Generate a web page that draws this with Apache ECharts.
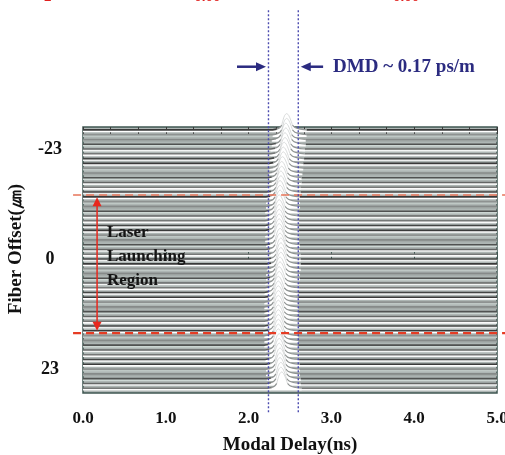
<!DOCTYPE html>
<html><head><meta charset="utf-8">
<script src="https://cdn.jsdelivr.net/npm/echarts@6/dist/echarts.min.js"></script>
<style>html,body{margin:0;padding:0;background:#fff}#c{width:505px;height:455px}</style>
</head><body><div id="c"></div>
<script>
// fiber offsets (µm) of each DMD trace, top to bottom
const offsets = [-27,-26,-25,-24,-23,-22,-21,-20,-19,-18,-17,-16,-15,-14,-13,-12,-11,-10,-9,-8,-7,-6,-5,-4,-3,-2,-1,0,1,2,3,4,5,6,7,8,9,10,11,12,13,14,15,16,17,18,19,20,21,22,23,24,25,26,27];
// pulse arrival time (ns) read for each trace
const arrivalNs = [2.46,2.46,2.45,2.45,2.44,2.44,2.43,2.42,2.42,2.41,2.40,2.40,2.39,2.39,2.38,2.38,2.38,2.37,2.37,2.37,2.37,2.37,2.37,2.37,2.38,2.38,2.39,2.39,2.39,2.39,2.38,2.38,2.37,2.37,2.36,2.36,2.36,2.36,2.36,2.36,2.36,2.36,2.36,2.36,2.36,2.36,2.37,2.37,2.37,2.38,2.38,2.38,2.39,2.39,2.40];
// pulse shape: time from arrival (ns) and height (in offset units)
const pulseDtNs = [-0.17,-0.12,-0.085,-0.06,-0.045,-0.025,0,0.025,0.05,0.07,0.10,0.15,0.24];
const pulseHeight = [0,0.15,0.45,1.0,2.0,3.0,3.4,3.0,2.0,1.0,0.5,0.2,0];
const xTickValues = [0,1,2,3,4,5];
const yTickValues = [-23,0,23];
const dmdBoundsNs = [2.24,2.60];
const launchRegionUm = [-13.4,15.5];
const dmdLabel = 'DMD ~ 0.17 ps/m';
const regionLabel = ['Laser','Launching','Region'];

const FONT = "'Liberation Serif','Times New Roman',serif";
const lineShades = ['#3a3a3a','#767877','#505251','#8e9291','#444645','#646665','#868a89'];
const bandShades = ['#ffffff','#cdd7d4','#eceeee','#a3aaa8','#fbfbfb','#bfc8c5','#f3f5f4'];

function traceItem(params, api){
  const o = api.value(1), t0 = api.value(0);
  const idx = params.dataIndex;
  const BAND = 0.5;
  const line = [[0,0]].concat(pulseDtNs.map((d,j)=>[t0+d, pulseHeight[j]])).concat([[5,0]]);
  const top = line.map(p=>api.coord([p[0], o-Math.min(p[1],1.0)]));
  const bot = line.map(p=>api.coord([p[0], o-Math.min(p[1],1.0)+BAND])).reverse();
  const full = line.map(p=>api.coord([p[0], o-p[1]]));
  const pulse = pulseDtNs.map((d,j)=>api.coord([t0+d, o-pulseHeight[j]]));
  const pulseBase = pulseDtNs.map(d=>api.coord([t0+d, o+BAND])).reverse();
  const lc = lineShades[(idx*3)%lineShades.length];
  const bc = bandShades[(idx*5)%bandShades.length];
  // split trace line: flat part dark, shoulders mid grey, tall middle light
  const flatL = [], flatR = [], shL = [], shR = [], mid = [];
  let passedPeak = false;
  line.forEach((p,j)=>{
    if (p[1] > 1.0) { mid.push(full[j]); passedPeak = true; return; }
    if (!passedPeak) { if (p[1] <= 0.15) flatL.push(full[j]); shL.push(full[j]); }
    else { if (p[1] <= 0.15) flatR.push(full[j]); shR.push(full[j]); }
  });
  if (mid.length){ mid.unshift(shL[shL.length-1]); mid.push(shR[0]); }
  const shLeft = shL.slice(flatL.length-1), shRight = shR.slice(0, shR.length-flatR.length+1);
  return {type:'group', children:[
    {type:'polygon', shape:{points:top.concat(bot)}, style:{fill:bc}},
    {type:'polygon', shape:{points:pulse.concat(pulseBase)}, style:{fill:'#ffffff'}},
    {type:'polyline', shape:{points:flatL}, style:{stroke:lc, lineWidth:1.6, fill:null}},
    {type:'polyline', shape:{points:flatR}, style:{stroke:lc, lineWidth:1.6, fill:null}},
    {type:'polyline', shape:{points:shLeft, smooth:0.3}, style:{stroke:'#8f9392', lineWidth:1.2, fill:null}},
    {type:'polyline', shape:{points:shRight, smooth:0.3}, style:{stroke:'#8f9392', lineWidth:1.2, fill:null}},
    {type:'polyline', shape:{points:mid, smooth:0.3}, style:{stroke:'#c8cccb', lineWidth:0.7, fill:null}}
  ]};
}

function arrowHead(tip, dir, len, wid){
  const bx = tip[0]-dir[0]*len, by = tip[1]-dir[1]*len;
  const nx = -dir[1]*wid/2, ny = dir[0]*wid/2;
  return [tip,[bx+nx,by+ny],[bx-nx,by-ny]];
}

const chart = echarts.init(document.getElementById('c'), null, {renderer:'canvas'});
const option = {
  animation:false,
  backgroundColor:'#ffffff',
  grid:{left:83, right:8, top:127, bottom:62, outerBoundsMode:'none', containLabel:false, show:true, backgroundColor:'#aeb6b4', borderColor:'#3f5752', borderWidth:1.5},
  xAxis:[{
    type:'value', min:0, max:5, interval:1, position:'bottom',
    axisLine:{show:false}, splitLine:{show:false},
    axisTick:{show:true, inside:true, length:7, lineStyle:{color:'#3f5752', width:1}},
    axisLabel:{margin:17, color:'#111', fontFamily:FONT, fontWeight:'bold', fontSize:17, formatter:v=>v.toFixed(1)},
    name:'Modal Delay(ns)', nameLocation:'middle', nameGap:43,
    nameTextStyle:{color:'#111', fontFamily:FONT, fontWeight:'bold', fontSize:19}
  },{
    type:'value', min:0, max:5, interval:1/3, position:'top',
    axisLine:{show:false}, splitLine:{show:false}, axisLabel:{show:false},
    axisTick:{show:true, inside:true, length:7, lineStyle:{color:'#3a3a3a', width:1}}
  }],
  yAxis:{
    type:'value', min:-27.6, max:28.0, inverse:true,
    axisLine:{show:false}, axisTick:{show:false}, splitLine:{show:false},
    axisLabel:{customValues:yTickValues, margin:33, align:'center', color:'#111', fontFamily:FONT, fontWeight:'bold', fontSize:18},
    name:'Fiber Offset(㎛)', nameLocation:'middle', nameGap:57,
    nameTextStyle:{color:'#111', fontFamily:FONT, fontWeight:'bold', fontSize:19, padding:[0,0,0,22]}
  },
  series:[
    {type:'custom', name:'traces', clip:false, z:2,
      data: offsets.map((o,i)=>[arrivalNs[i], o]),
      renderItem: traceItem},
    {type:'custom', name:'launch', clip:false, z:5,
      data: launchRegionUm.map(v=>[0,v]),
      renderItem:(params, api)=>{
        const y = api.value(1);
        const a = api.coord([-0.12,y]), b = api.coord([5.1,y]);
        return {type:'line', shape:{x1:a[0],y1:a[1],x2:b[0],y2:b[1]},
          style:{stroke: params.dataIndex===0 ? '#e8765a' : '#e63c24', lineWidth: params.dataIndex===0?1.6:2.2, lineDash:[8,5]}};
      }},
    {type:'custom', name:'dmd', clip:false, z:6,
      data: dmdBoundsNs.map(t=>[t,0]),
      renderItem:(params, api)=>{
        const t = api.value(0);
        const a = api.coord([t,-52]), b = api.coord([t,32.2]);
        return {type:'line', shape:{x1:a[0],y1:a[1],x2:b[0],y2:b[1]},
          style:{stroke:'#4c4cb0', lineWidth:1.4, lineDash:[2,2]}};
      }},
    {type:'custom', name:'annot', clip:false, z:7,
      data:[[0,0]],
      renderItem:(params, api)=>{
        const navy = '#2b2b80', red = '#e8281e';
        const yA = -40.2;
        const l1 = api.coord([dmdBoundsNs[0]-0.38, yA]), l2 = api.coord([dmdBoundsNs[0]-0.03, yA]);
        const r1 = api.coord([dmdBoundsNs[1]+0.30, yA]), r2 = api.coord([dmdBoundsNs[1]+0.03, yA]);
        const tx = api.coord([dmdBoundsNs[1]+0.42, yA]);
        const ax = 0.17;
        const ra = api.coord([ax, launchRegionUm[0]+0.5]), rb = api.coord([ax, launchRegionUm[1]-0.5]);
        const lt = api.coord([0.29, -0.5]);
        return {type:'group', children:[
          {type:'line', shape:{x1:l1[0],y1:l1[1],x2:l2[0]-8,y2:l2[1]}, style:{stroke:navy, lineWidth:2.5}},
          {type:'polygon', shape:{points:arrowHead(l2,[1,0],10,9)}, style:{fill:navy}},
          {type:'line', shape:{x1:r1[0],y1:r1[1],x2:r2[0]+8,y2:r2[1]}, style:{stroke:navy, lineWidth:2.5}},
          {type:'polygon', shape:{points:arrowHead(r2,[-1,0],10,9)}, style:{fill:navy}},
          {type:'text', x:tx[0], y:tx[1], style:{text:dmdLabel, fill:navy, font:'bold 19px '+FONT, verticalAlign:'middle', align:'left'}},
          {type:'line', shape:{x1:ra[0],y1:ra[1]+8,x2:rb[0],y2:rb[1]-8}, style:{stroke:red, lineWidth:1.5}},
          {type:'polygon', shape:{points:arrowHead(ra,[0,-1],9,9)}, style:{fill:red}},
          {type:'polygon', shape:{points:arrowHead(rb,[0,1],9,9)}, style:{fill:red}},
          {type:'text', x:lt[0], y:lt[1], style:{text:regionLabel.join('\n'), fill:'#151515', font:'bold 17px '+FONT, lineHeight:24, verticalAlign:'middle', align:'left'}}
        ]};
      }}
  ],
  graphic:[
    {type:'text', left:44, top:-10, style:{text:'2', fill:'#e0201e', font:'bold 15px '+FONT}},
    {type:'text', left:182, top:-10, style:{text:'= 0.00', fill:'#e0201e', font:'bold 15px '+FONT}},
    {type:'text', left:393, top:-10, style:{text:'0.00', fill:'#e0201e', font:'bold 15px '+FONT}}
  ]
};
chart.setOption(option);
</script></body></html>
